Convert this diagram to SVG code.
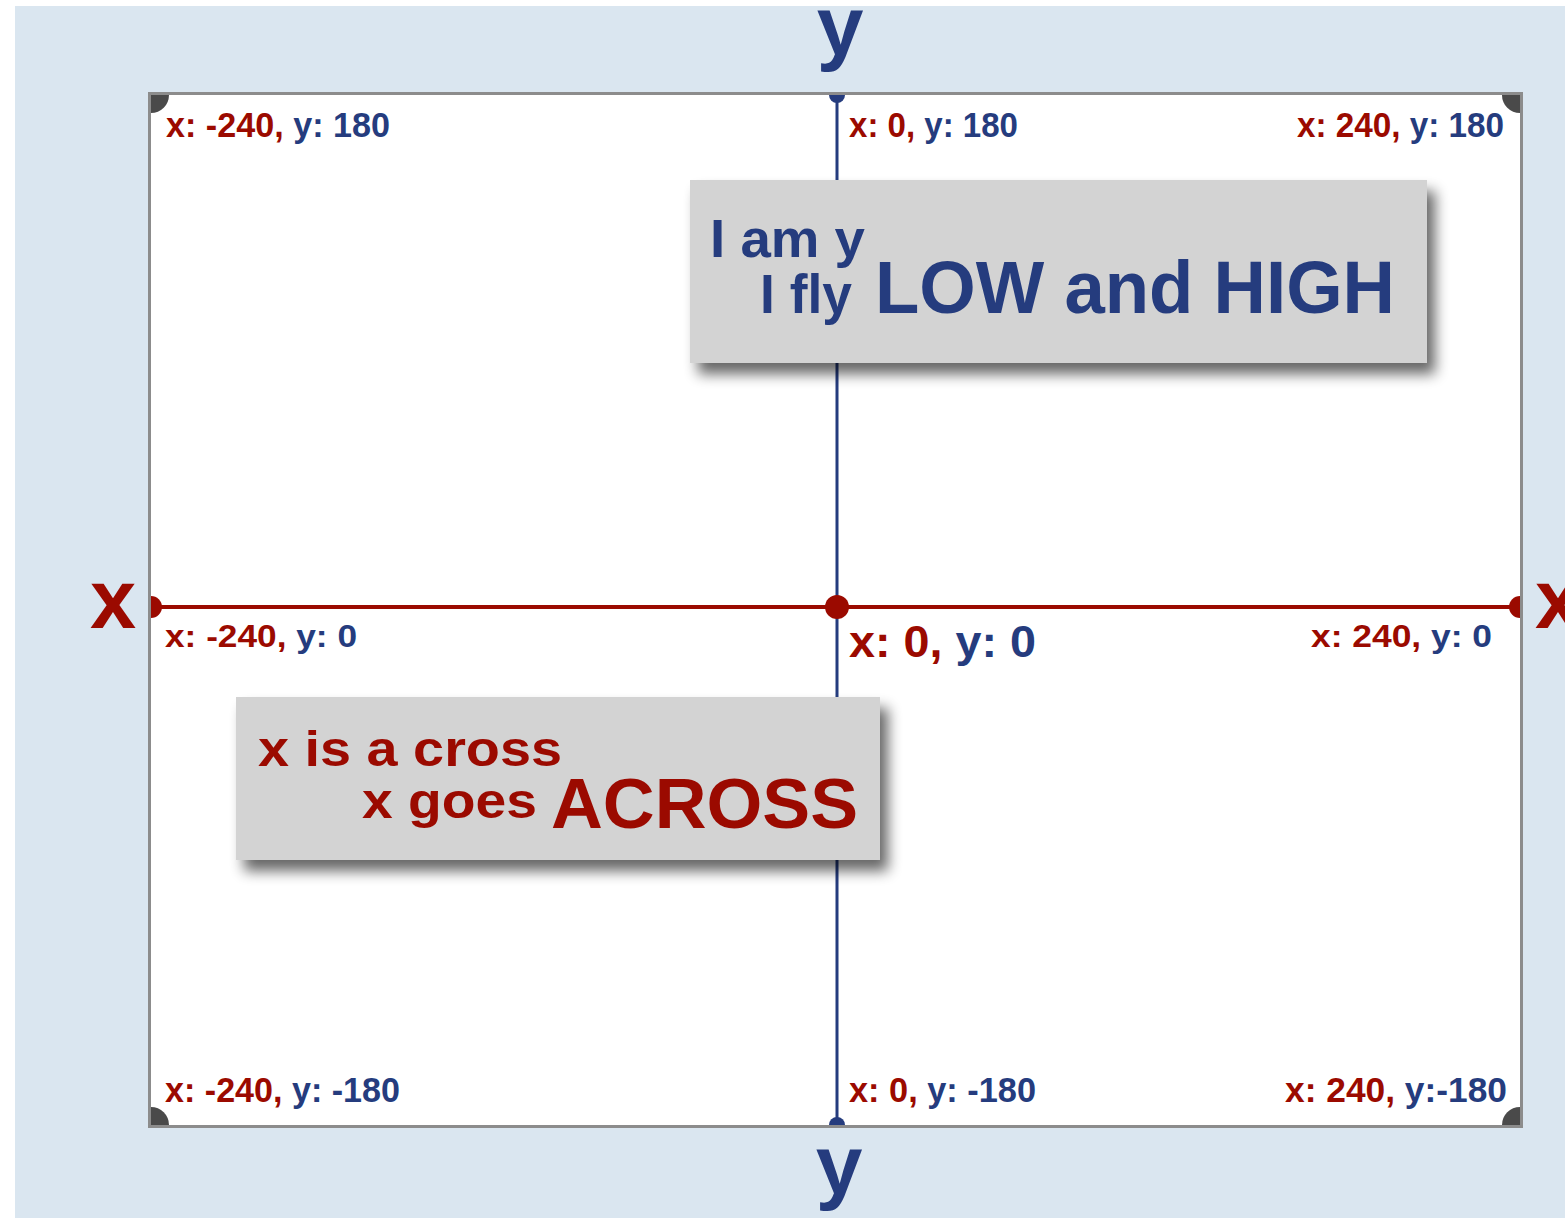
<svg xmlns="http://www.w3.org/2000/svg" width="1565" height="1218" viewBox="0 0 1565 1218">
<style>
text{font-family:"Liberation Sans",Arial,sans-serif;font-weight:bold}
.r{fill:#9b0a00}
.b{fill:#253c7e}
.box{fill:#d3d3d3}
</style>
<defs>
<filter id="sh" x="-10%" y="-20%" width="125%" height="150%">
<feGaussianBlur in="SourceAlpha" stdDeviation="7"/>
<feOffset dx="8" dy="11" result="o"/>
<feComponentTransfer><feFuncA type="linear" slope="0.6"/></feComponentTransfer>
<feMerge><feMergeNode/><feMergeNode in="SourceGraphic"/></feMerge>
</filter>
</defs>
<rect x="0" y="0" width="1565" height="1218" fill="#ffffff"/>
<rect x="15" y="6" width="1550" height="1212" fill="#dae6f0"/>
<g id="frame">
<rect x="149.5" y="93.5" width="1372" height="1033" fill="#ffffff" stroke="#8c8c8c" stroke-width="3"/>
<path d="M151 95 h18 a18 18 0 0 1 -18 18 z" fill="#4a4a4a"/>
<path d="M1520 95 v18 a18 18 0 0 1 -18 -18 z" fill="#4a4a4a"/>
<path d="M151 1125 v-18 a18 18 0 0 1 18 18 z" fill="#4a4a4a"/>
<path d="M1520 1125 h-18 a18 18 0 0 1 18 -18 z" fill="#4a4a4a"/>
</g>
<g id="connectors">
<line x1="837" y1="95" x2="837" y2="1125" stroke="#253c7e" stroke-width="3"/>
<line x1="151" y1="607" x2="1520" y2="607" stroke="#9b0a00" stroke-width="4"/>
<path d="M829 95 a8 8 0 0 0 16 0 z" fill="#253c7e"/>
<path d="M829 1125 a8 8 0 0 1 16 0 z" fill="#253c7e"/>
<path d="M151 596 a11 11 0 0 1 0 22 z" fill="#9b0a00"/>
<path d="M1520 596 a11 11 0 0 0 0 22 z" fill="#9b0a00"/>
<circle cx="837" cy="607" r="12" fill="#9b0a00"/>
</g>
<g id="axis-labels">
<text x="840" y="55" font-size="84" text-anchor="middle" class="b">y</text>
<text x="839" y="1194" font-size="84" text-anchor="middle" class="b">y</text>
<text x="113" y="628" font-size="83" text-anchor="middle" class="r">x</text>
<text x="1535" y="628" font-size="83" class="r">x</text>
</g>
<g id="corner-labels">
<text x="166" y="137" font-size="35" textLength="224" lengthAdjust="spacingAndGlyphs"><tspan class="r">x: -240,</tspan><tspan class="b"> y: 180</tspan></text>
<text x="849" y="137" font-size="35" textLength="169" lengthAdjust="spacingAndGlyphs"><tspan class="r">x: 0,</tspan><tspan class="b"> y: 180</tspan></text>
<text x="1297" y="137" font-size="35" textLength="207" lengthAdjust="spacingAndGlyphs"><tspan class="r">x: 240,</tspan><tspan class="b"> y: 180</tspan></text>
<text x="165" y="647" font-size="32" textLength="192" lengthAdjust="spacingAndGlyphs"><tspan class="r">x: -240,</tspan><tspan class="b">  y: 0</tspan></text>
<text x="849" y="657" font-size="44" textLength="187" lengthAdjust="spacingAndGlyphs"><tspan class="r">x: 0,</tspan><tspan class="b"> y: 0</tspan></text>
<text x="1311" y="647" font-size="32" textLength="181" lengthAdjust="spacingAndGlyphs"><tspan class="r">x: 240,</tspan><tspan class="b"> y: 0</tspan></text>
<text x="165" y="1102" font-size="35" textLength="235" lengthAdjust="spacingAndGlyphs"><tspan class="r">x: -240,</tspan><tspan class="b"> y: -180</tspan></text>
<text x="849" y="1102" font-size="35" textLength="187" lengthAdjust="spacingAndGlyphs"><tspan class="r">x: 0,</tspan><tspan class="b"> y: -180</tspan></text>
<text x="1285" y="1102" font-size="35" textLength="222" lengthAdjust="spacingAndGlyphs"><tspan class="r">x: 240,</tspan><tspan class="b"> y:-180</tspan></text>
</g>
<g id="y-box">
<rect class="box" x="690" y="180" width="737" height="183" filter="url(#sh)"/>
<text x="710" y="257" font-size="53" class="b" textLength="155" lengthAdjust="spacingAndGlyphs">I am y</text>
<text x="760" y="313" font-size="55" class="b" textLength="92" lengthAdjust="spacingAndGlyphs">I fly</text>
<text x="875" y="313" font-size="74" class="b" textLength="520" lengthAdjust="spacingAndGlyphs">LOW and HIGH</text>
</g>
<g id="x-box">
<rect class="box" x="236" y="697" width="644" height="163" filter="url(#sh)"/>
<text x="258" y="766" font-size="50" class="r" textLength="304" lengthAdjust="spacingAndGlyphs">x is a cross</text>
<text x="362" y="818" font-size="50" class="r" textLength="175" lengthAdjust="spacingAndGlyphs">x goes</text>
<text x="551" y="828" font-size="70" class="r" textLength="307" lengthAdjust="spacingAndGlyphs">ACROSS</text>
</g>
</svg>
